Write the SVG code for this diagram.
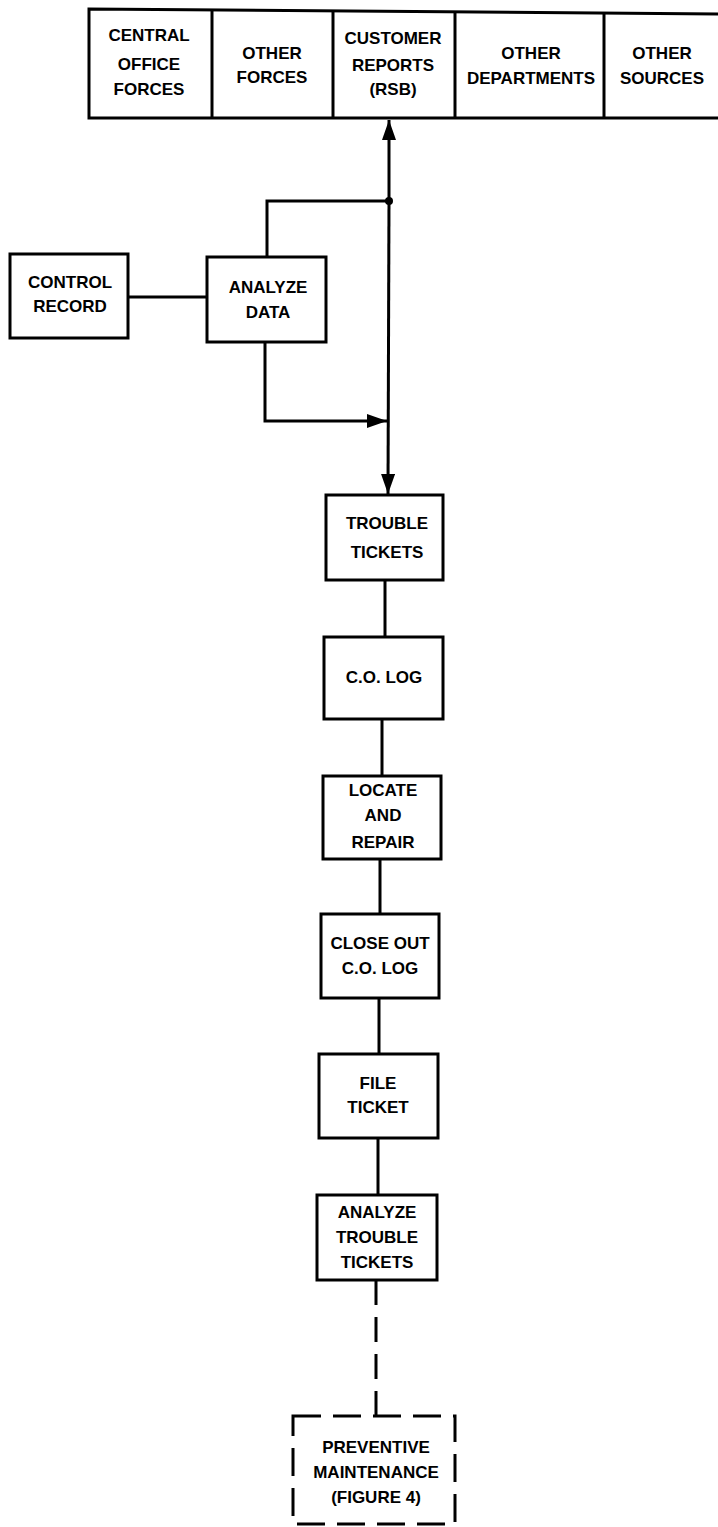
<svg xmlns="http://www.w3.org/2000/svg" width="718" height="1527" viewBox="0 0 718 1527">
<style>
.b{fill:none;stroke:#000;stroke-width:3}
.d{fill:none;stroke:#000;stroke-width:3;stroke-dasharray:28 12}
.l{fill:none;stroke:#000;stroke-width:3}
text{font-family:"Liberation Sans",Arial,sans-serif;font-weight:bold;font-size:17px;fill:#000;text-anchor:middle}
</style>
<defs>
<marker id="ah" viewBox="0 0 20 14" refX="20" refY="7" markerWidth="20" markerHeight="14" markerUnits="userSpaceOnUse" orient="auto">
<path d="M0,0 L20,7 L0,14 Z" fill="#000"/>
</marker>
</defs>
<rect width="718" height="1527" fill="#fff"/>
<g id="sources">
<path class="b" d="M722,14 L89,9 L89,118 L722,118"/>
<line class="b" x1="212" y1="10" x2="212" y2="118"/>
<line class="b" x1="333" y1="11" x2="333" y2="118"/>
<line class="b" x1="455" y1="12" x2="455" y2="118"/>
<line class="b" x1="604" y1="13" x2="604" y2="118"/>
<g id="central-office-forces"><text x="149" y="41">CENTRAL</text><text x="149" y="70">OFFICE</text><text x="149" y="95">FORCES</text></g>
<g id="other-forces"><text x="272" y="59">OTHER</text><text x="272" y="83">FORCES</text></g>
<g id="customer-reports"><text x="393" y="44">CUSTOMER</text><text x="393" y="71">REPORTS</text><text x="393" y="95">(RSB)</text></g>
<g id="other-departments"><text x="531" y="59">OTHER</text><text x="531" y="84">DEPARTMENTS</text></g>
<g id="other-sources"><text x="662" y="59">OTHER</text><text x="662" y="84">SOURCES</text></g>
</g>
<g id="control-record"><rect class="b" x="10" y="254" width="118" height="84"/><text x="70" y="288">CONTROL</text><text x="70" y="312">RECORD</text></g>
<g id="analyze-data"><rect class="b" x="207" y="257" width="119" height="85"/><text x="268" y="293">ANALYZE</text><text x="268" y="318">DATA</text></g>
<g id="trouble-tickets"><rect class="b" x="326" y="495" width="117" height="85"/><text x="387" y="529">TROUBLE</text><text x="387" y="558">TICKETS</text></g>
<g id="co-log"><rect class="b" x="324" y="637" width="119" height="82"/><text x="384" y="683">C.O. LOG</text></g>
<g id="locate-repair"><rect class="b" x="323" y="776" width="118" height="83"/><text x="383" y="796">LOCATE</text><text x="383" y="821">AND</text><text x="383" y="848">REPAIR</text></g>
<g id="close-out"><rect class="b" x="321" y="914" width="118" height="84"/><text x="380" y="949">CLOSE OUT</text><text x="380" y="974">C.O. LOG</text></g>
<g id="file-ticket"><rect class="b" x="319" y="1054" width="119" height="84"/><text x="378" y="1089">FILE</text><text x="378" y="1113">TICKET</text></g>
<g id="analyze-trouble-tickets"><rect class="b" x="317" y="1195" width="120" height="85"/><text x="377" y="1218">ANALYZE</text><text x="377" y="1243">TROUBLE</text><text x="377" y="1268">TICKETS</text></g>
<g id="preventive-maintenance"><rect class="d" x="293" y="1416" width="162" height="108"/><text x="376" y="1453">PREVENTIVE</text><text x="376" y="1478">MAINTENANCE</text><text x="376" y="1503">(FIGURE 4)</text></g>
<g id="connectors">
<line class="l" x1="389" y1="201" x2="389" y2="120" marker-end="url(#ah)"/>
<line class="l" x1="389" y1="201" x2="388" y2="494" marker-end="url(#ah)"/>
<circle cx="389" cy="201" r="4" fill="#000"/>
<polyline class="l" points="267,257 267,201 389,201"/>
<polyline class="l" points="265,342 265,421 387,421" marker-end="url(#ah)"/>
<line class="l" x1="128" y1="297" x2="207" y2="297"/>
<line class="l" x1="385" y1="580" x2="385" y2="637"/>
<line class="l" x1="382" y1="719" x2="382" y2="776"/>
<line class="l" x1="380" y1="859" x2="380" y2="914"/>
<line class="l" x1="379" y1="998" x2="379" y2="1054"/>
<line class="l" x1="378" y1="1138" x2="378" y2="1195"/>
<line class="d" x1="376" y1="1280" x2="376" y2="1416" style="stroke-dasharray:25 12"/>
</g>
</svg>
